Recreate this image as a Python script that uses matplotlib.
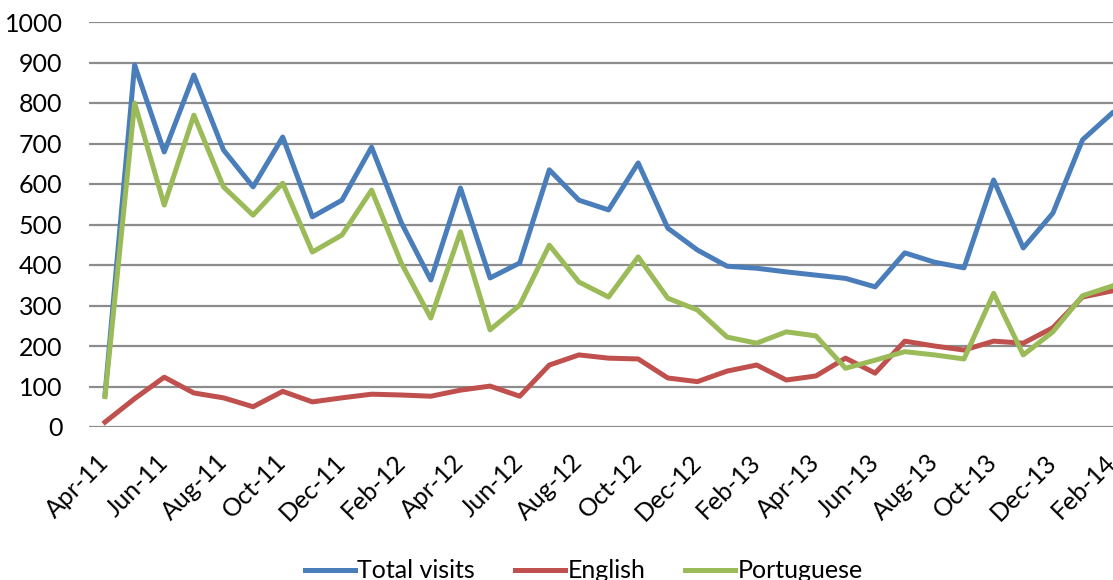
import numpy as np
import pandas as pd
import matplotlib
matplotlib.use('Agg')
import matplotlib.pyplot as plt

months = pd.date_range('2011-04-01', periods=35, freq='MS').strftime('%b-%y').tolist()

total = [80, 894, 679, 869, 684, 593, 716, 519, 560, 691, 505,
         363, 590, 368, 405, 635, 560, 536, 652, 491, 437, 397,
         392, 383, 375, 367, 346, 430, 407, 393, 610, 442, 528, 709, 775]
english = [12, 70, 123, 84, 72, 50, 88, 62, 72, 81, 79,
           76, 91, 101, 76, 153, 178, 170, 168, 121, 112, 138,
           153, 116, 126, 170, 133, 212, 200, 190, 212, 207, 245, 321, 336]
portuguese = [75, 800, 548, 770, 593, 523, 602, 432, 474, 585, 405,
              269, 482, 240, 301, 449, 358, 321, 420, 318, 289, 222,
              207, 235, 225, 145, 165, 186, 178, 168, 330, 178, 235, 324, 348]

plt.rcParams['font.family'] = ['Lato', 'DejaVu Sans']

fig = plt.figure(figsize=(11.13, 5.80), dpi=100)
ax = fig.add_axes([89/1113, 153/580, 1 - 89/1113, 405/580])

x = np.arange(len(months))
ax.plot(x, total, color='#4A7EBB', lw=3.6, label='Total visits')
ax.plot(x, english, color='#C0504D', lw=3.6, label='English')
ax.plot(x, portuguese, color='#9BBB59', lw=3.6, label='Portuguese')

ax.set_ylim(0, 1000)
ax.set_xlim(-0.54, 34.03)
ax.set_yticks(np.arange(0, 1001, 100))
ax.yaxis.grid(True, color='#8C8C8C', lw=1.6)
ax.set_axisbelow(True)
for s in ax.spines.values():
    s.set_visible(False)
ax.tick_params(axis='y', length=0, labelsize=18, pad=19)
ax.tick_params(axis='x', length=0, labelsize=18, pad=8)

ax.set_xticks(x[::2])
ax.set_xticklabels(months[::2], rotation=45, ha='right', va='center', rotation_mode='anchor')
for t in ax.get_xticklabels():
    t.set_y(-0.05)

ax.legend(loc='center', bbox_to_anchor=(584/1113, 9/580), bbox_transform=fig.transFigure,
          ncol=3, frameon=False, fontsize=18, handlelength=2.0, handletextpad=0.1,
          columnspacing=1.6)

fig.savefig('out.png', dpi=100)
